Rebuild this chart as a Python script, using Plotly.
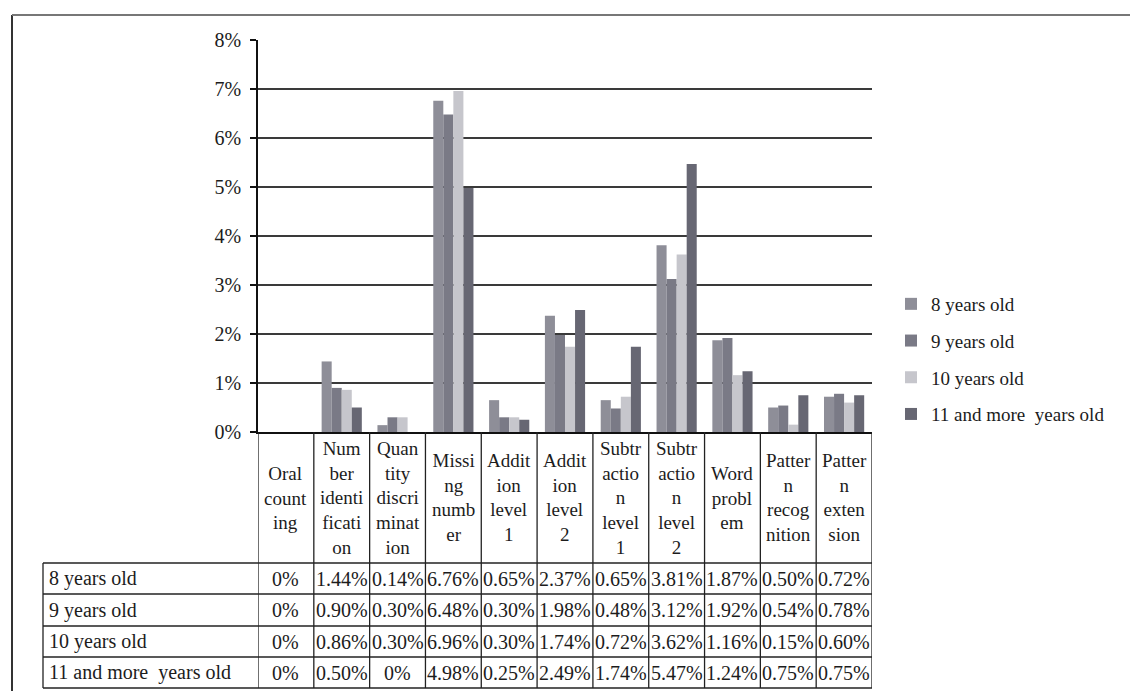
import plotly.graph_objects as go

# Error rates (%) per subtask and age group
categories = [
    "Oral counting", "Number identification", "Quantity discrimination",
    "Missing number", "Addition level 1", "Addition level 2",
    "Subtraction level 1", "Subtraction level 2", "Word problem",
    "Pattern recognition", "Pattern extension",
]
header_labels = [
    "Oral<br>count<br>ing",
    "Num<br>ber<br>identi<br>ficati<br>on",
    "Quan<br>tity<br>discri<br>minat<br>ion",
    "Missi<br>ng<br>numb<br>er",
    "Addit<br>ion<br>level<br>1",
    "Addit<br>ion<br>level<br>2",
    "Subtr<br>actio<br>n<br>level<br>1",
    "Subtr<br>actio<br>n<br>level<br>2",
    "Word<br>probl<br>em",
    "Patter<br>n<br>recog<br>nition",
    "Patter<br>n<br>exten<br>sion",
]
series_names = ["8 years old", "9 years old", "10 years old", "11 and more\u00a0 years old"]
age_8 = [0, 1.44, 0.14, 6.76, 0.65, 2.37, 0.65, 3.81, 1.87, 0.50, 0.72]
age_9 = [0, 0.90, 0.30, 6.48, 0.30, 1.98, 0.48, 3.12, 1.92, 0.54, 0.78]
age_10 = [0, 0.86, 0.30, 6.96, 0.30, 1.74, 0.72, 3.62, 1.16, 0.15, 0.60]
age_11_plus = [0, 0.50, 0, 4.98, 0.25, 2.49, 1.74, 5.47, 1.24, 0.75, 0.75]
y_ticks = [0, 1, 2, 3, 4, 5, 6, 7, 8]
y_tick_labels = [f"{t}%" for t in y_ticks]

series_values = [age_8, age_9, age_10, age_11_plus]
colors = ["#8e8e98", "#7a7a86", "#c6c6cc", "#676773"]

W, H = 1130, 691
PLOT_L, PLOT_R = 258, 872
PLOT_T, PLOT_B = 40, 432
FONT = "Liberation Serif, Times New Roman, serif"
TXT = "#1c1c1c"


def py(ypx):
    """Pixel row -> paper y."""
    return (PLOT_B - ypx) / (PLOT_B - PLOT_T)


def px(xpx):
    """Pixel column -> paper x."""
    return (xpx - PLOT_L) / (PLOT_R - PLOT_L)


fig = go.Figure()
for i, (name, vals, col) in enumerate(zip(series_names, series_values, colors)):
    fig.add_trace(go.Bar(
        x=categories, y=vals, name=name, legendgroup=f"g{i}",
        marker=dict(color=col, line=dict(width=0)),
    ))

n = len(categories)
shapes = []
annotations = []

# Data table below the plot
header_bottom = 563
row_lines = [563, 594, 626, 657, 688]
label_left = 43

# vertical column separators (through header and data rows)
for k in range(n + 1):
    shapes.append(dict(type="line", xref="x", yref="paper",
                       x0=k - 0.5, x1=k - 0.5, y0=py(PLOT_B), y1=py(row_lines[-1]),
                       line=dict(color="#222", width=1.3)))
# horizontal row separators
for yl in row_lines:
    shapes.append(dict(type="line", xref="paper", yref="paper",
                       x0=px(label_left), x1=1, y0=py(yl), y1=py(yl),
                       line=dict(color="#222", width=1.3)))
# left border of the row-label column
shapes.append(dict(type="line", xref="paper", yref="paper",
                   x0=px(label_left), x1=px(label_left),
                   y0=py(header_bottom), y1=py(row_lines[-1]),
                   line=dict(color="#222", width=1.3)))

# outer frame (left and top edges)
shapes.append(dict(type="line", xref="paper", yref="paper",
                   x0=px(12), x1=px(12), y0=py(15), y1=py(H + 5),
                   line=dict(color="#333", width=2)))
shapes.append(dict(type="line", xref="paper", yref="paper",
                   x0=px(12), x1=px(W + 5), y0=py(15), y1=py(15),
                   line=dict(color="#777", width=2)))

# header cells
for k, lab in enumerate(header_labels):
    annotations.append(dict(xref="x", yref="paper", x=k, y=py((PLOT_B + header_bottom) / 2),
                            text=lab, showarrow=False, xanchor="center", yanchor="middle",
                            font=dict(family=FONT, size=19, color=TXT)))

# data rows
for r, (name, vals) in enumerate(zip(series_names, series_values)):
    yc = (row_lines[r] + row_lines[r + 1]) / 2
    annotations.append(dict(xref="paper", yref="paper", x=px(label_left + 4), y=py(yc),
                            text=name, showarrow=False, xanchor="left", yanchor="middle",
                            font=dict(family=FONT, size=20, color=TXT)))
    for k, v in enumerate(vals):
        txt = "0%" if v == 0 else f"{v:.2f}%"
        annotations.append(dict(xref="x", yref="paper", x=k, y=py(yc),
                                text=txt, showarrow=False, xanchor="center", yanchor="middle",
                                font=dict(family=FONT, size=20, color=TXT)))

fig.update_layout(
    width=W, height=H,
    margin=dict(l=PLOT_L, r=W - PLOT_R, t=PLOT_T, b=H - PLOT_B, autoexpand=False),
    paper_bgcolor="white", plot_bgcolor="white",
    barmode="group", bargap=0.28, bargroupgap=0,
    font=dict(family=FONT, size=20, color=TXT),
    showlegend=True,
    legend=dict(x=px(891), y=py(285), xanchor="left", yanchor="top",
                font=dict(family=FONT, size=19, color=TXT),
                tracegroupgap=9, bgcolor="rgba(0,0,0,0)", itemclick=False),
    shapes=shapes, annotations=annotations,
)
fig.update_xaxes(type="category", showticklabels=False, showgrid=False,
                 showline=True, linecolor="#111", linewidth=1.5, ticks="", range=[-0.5, n - 0.5])
fig.update_yaxes(range=[0, 8], tickmode="array", tickvals=y_ticks, ticktext=y_tick_labels,
                 showgrid=True, gridcolor="#3a3a3a", gridwidth=1.5,
                 showline=True, linecolor="#111", linewidth=1.5,
                 ticks="outside", ticklen=6, tickcolor="#111", tickwidth=1.5,
                 ticklabelstandoff=5,
                 tickfont=dict(family=FONT, size=20, color=TXT), zeroline=False)

fig.write_html("out.html")
